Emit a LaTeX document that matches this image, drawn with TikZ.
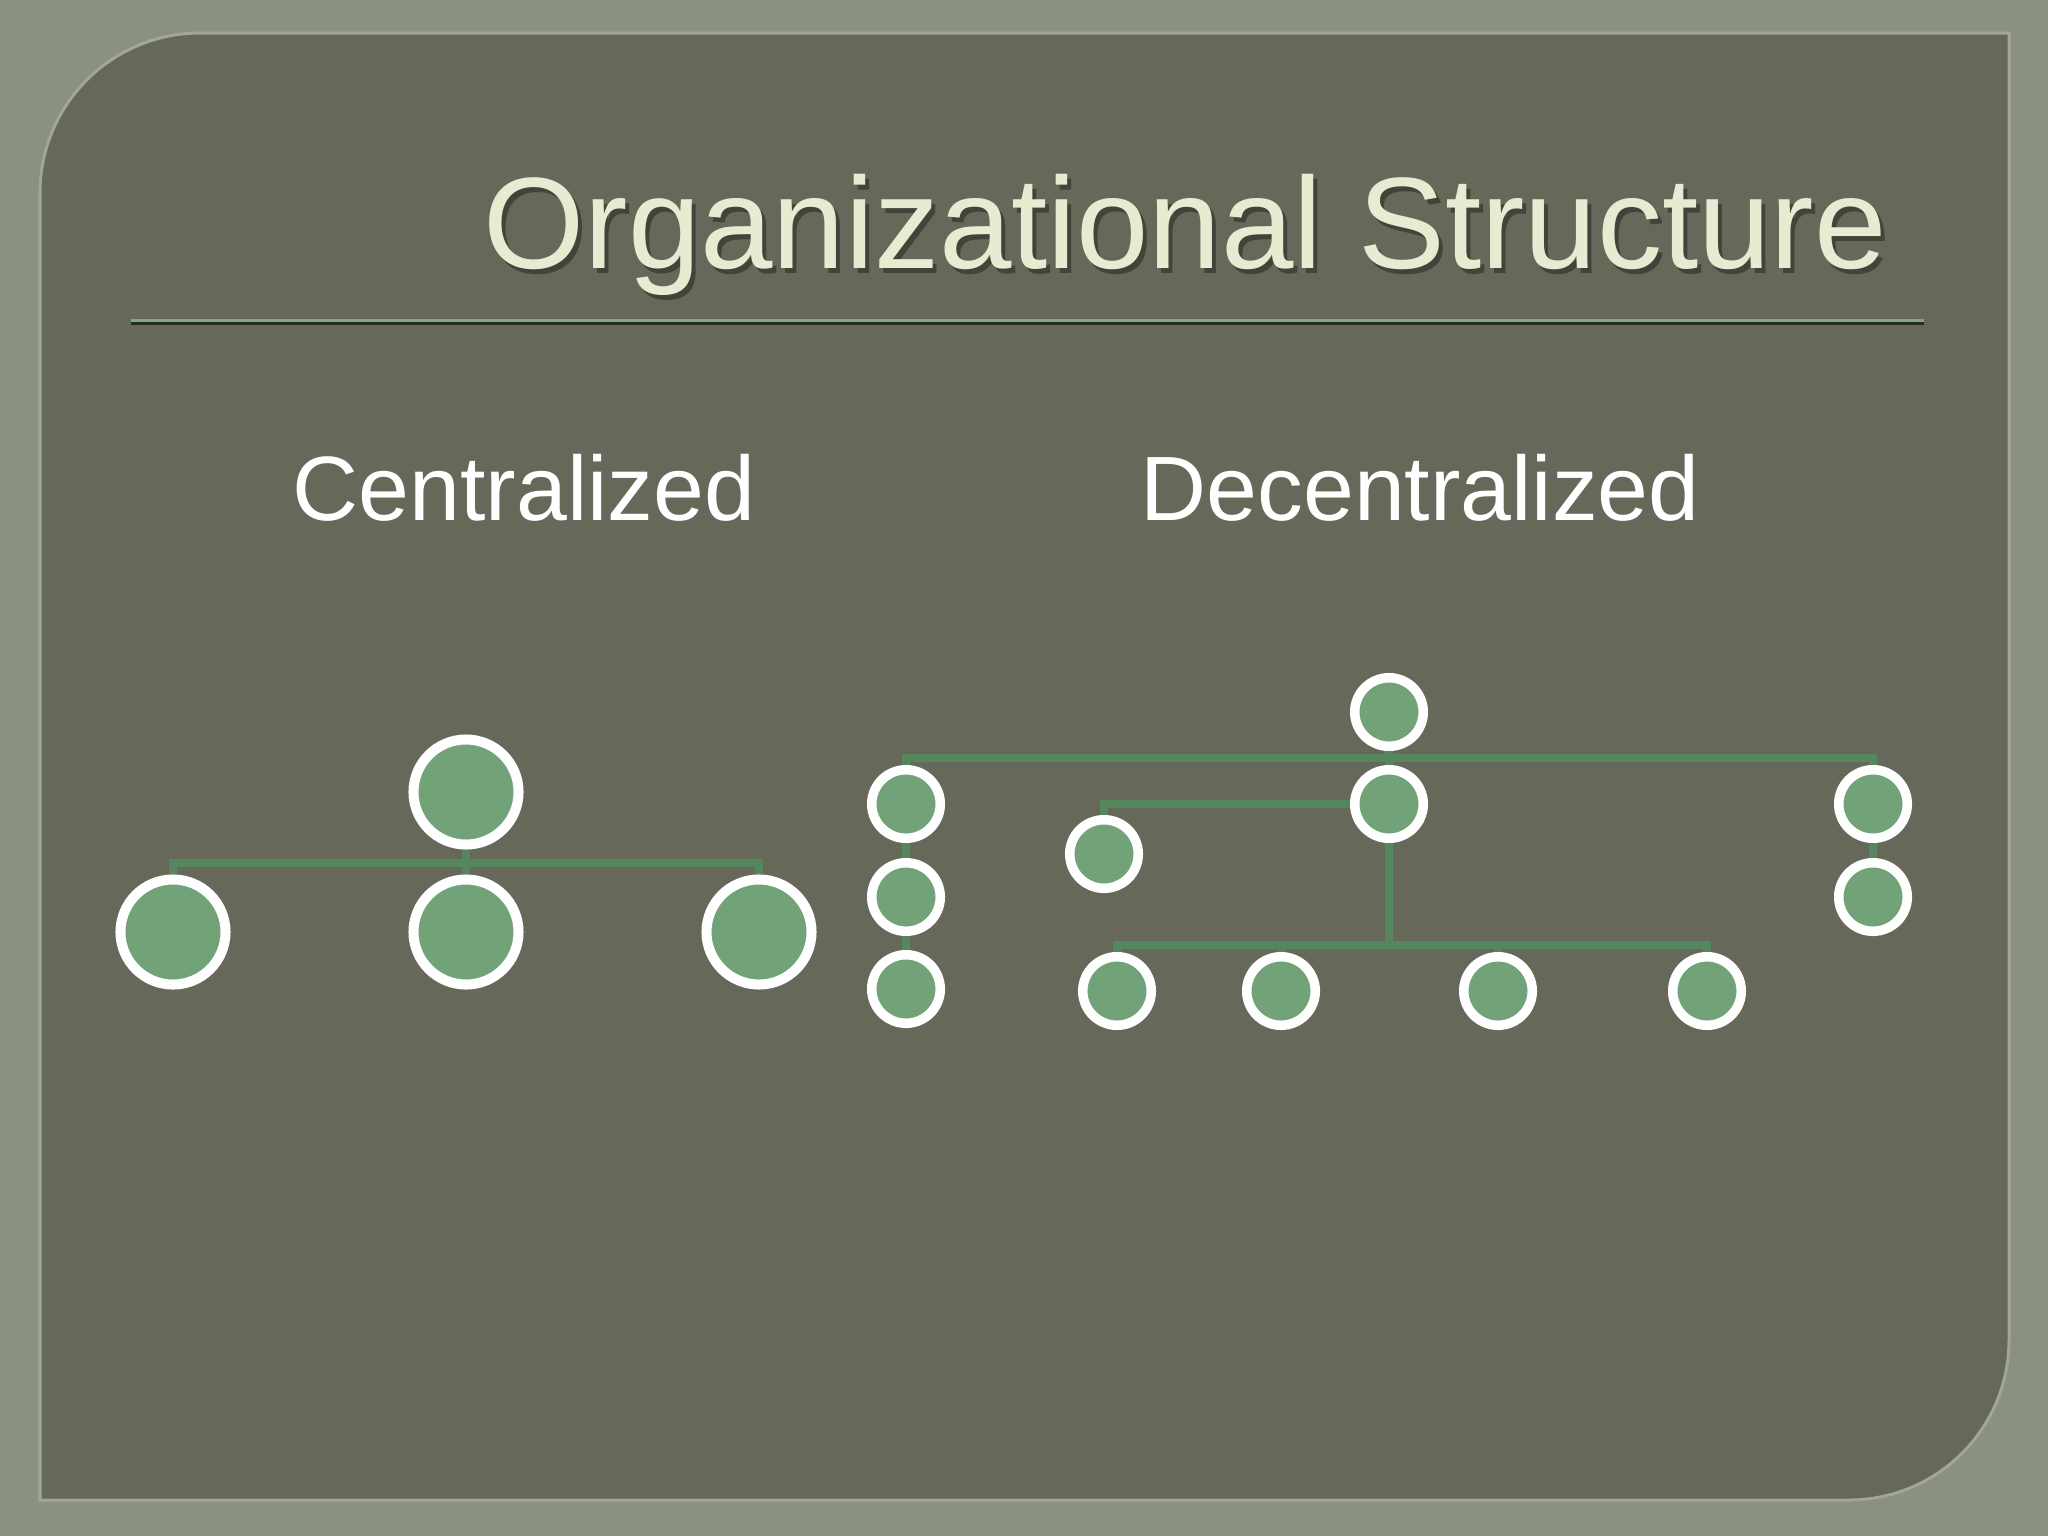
\documentclass[tikz,border=0pt]{standalone}
\usepackage{fontspec}
\setmainfont{Liberation Sans}
\definecolor{frameclr}{HTML}{8B9180}
\definecolor{panelclr}{HTML}{66695A}
\definecolor{edgeclr}{HTML}{A1A794}
\definecolor{nodeclr}{HTML}{72A378}
\definecolor{linkclr}{HTML}{55875F}
\definecolor{titleclr}{HTML}{E8EBD2}
\definecolor{ruleclr}{HTML}{7BAA85}

\begin{document}
\begin{tikzpicture}[x=0.01cm,y=-0.01cm,
 title/.style={anchor=base west,inner sep=0pt,font=\fontsize{37pt}{44pt}\selectfont},
 heading/.style={anchor=base west,inner sep=0pt,text=white,font=\fontsize{26pt}{31pt}\selectfont},
 bignode/.style={circle,draw=white,fill=nodeclr,line width=0.1cm,minimum size=1.05cm,inner sep=0pt},
 smallnode/.style={circle,draw=white,fill=nodeclr,line width=0.095cm,minimum size=0.685cm,inner sep=0pt},
 link/.style={draw=linkclr,line width=0.08cm}]
\useasboundingbox (0,0) rectangle (2048,1536);
\fill[frameclr] (0,0) rectangle (2048,1536);
%%panel
\path[fill=panelclr,draw=edgeclr,line width=0.03cm] (40,1500) -- (40,193) arc (180:270:160)
 -- (2009,33) -- (2009,1340) arc (0:90:160) -- cycle;

%%title
\node[title,text=black,opacity=0.35] at (487,273) {Organizational Structure};
\node[title,text=titleclr] (T) at (483,268) {Organizational Structure};
\draw[black!60!panelclr,line width=0.03cm] (131,323)--(1924,323);
\draw[ruleclr,line width=0.03cm] (131,320)--(1924,320);

\node[heading] (cen) at (292,520) {Centralized};
\node[heading] (dec) at (1140,520) {Decentralized};

%%centralized
\node[bignode] (CT) at (466,792) {};
\foreach \n/\x in {CL/173,CM/466,CR/759}
\node[bignode] (\n) at (\x,932) {};
\coordinate (cbar) at (466,863);
\draw[link] (CT) -- (CM);
\draw[link] (CL.north) |- (cbar) -| (CR.north);

%%decentralized
\node[smallnode] (DT) at (1389,712) {};
\foreach \n/\x/\y in {L1/906/804,L2/906/897,L3/906/989,DM/1389/804,R1/1873/804,
R2/1873/897,DB/1104/854,E1/1117/991,E2/1281/991,E3/1498/991,E4/1707/991}
\node[smallnode] (\n) at (\x,\y) {};
\coordinate (dbar) at (1389,758);
\coordinate (ebar) at (1389,945);
\draw[link] (DT) -- (DM);
\draw[link] (L1.north) |- (dbar) -| (R1.north);
\draw[link] (L1) -- (L2) (L2) -- (L3) (R1) -- (R2);
\draw[link] (DM.west) -| (DB.north);
\draw[link] (DM) -- (ebar);
\draw[link] (E1.north) |- (ebar) -| (E4.north);
\foreach \n in {E2,E3}
\draw[link] (\n) -- (\n |- ebar);
\end{tikzpicture}
\end{document}
